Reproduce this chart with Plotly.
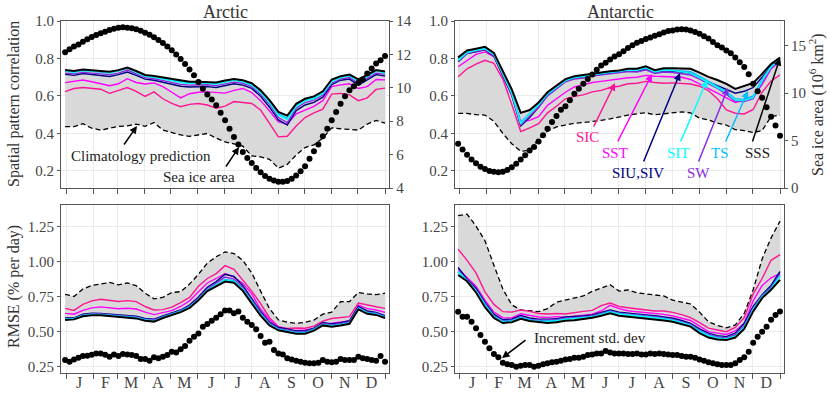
import plotly.graph_objects as go

SERIF = "Liberation Serif"
W, H = 830, 394

# x positions: 73 five-day means over the year, lines drawn at every other one
pentad_day = [i * 366 / 72 for i in range(73)]
line_day = pentad_day[::2]

month_edges = [1, 32, 60, 91, 121, 152, 182, 213, 244, 274, 305, 335, 366]
month_mid = [16, 46, 75.5, 106, 136.5, 167, 197.5, 228.5, 259, 289.5, 320, 350.5]
month_labels = ["J", "F", "M", "A", "M", "J", "J", "A", "S", "O", "N", "D"]

run_names = ["SIC", "SST", "SIU,SIV", "SW", "TS", "SIT", "SSS"]
run_colors = {"SIC": "#ff1493", "SST": "#ff00ff", "SIU,SIV": "#000080", "SW": "#8a2be2",
              "TS": "#00bfff", "SIT": "#00ffff", "SSS": "#000000"}

# ---------------- Arctic, spatial pattern correlation ----------------
arc_corr_clim = [0.436, 0.436, 0.452, 0.428, 0.418, 0.430, 0.438, 0.440, 0.450, 0.438, 0.458, 0.418, 0.405,
                 0.392, 0.385, 0.392, 0.400, 0.375, 0.355, 0.344, 0.332, 0.280, 0.275, 0.262, 0.215, 0.235,
                 0.285, 0.325, 0.339, 0.375, 0.430, 0.425, 0.420, 0.418, 0.450, 0.470, 0.455]
arc_corr_sic = [0.623, 0.640, 0.645, 0.640, 0.636, 0.614, 0.630, 0.645, 0.625, 0.598, 0.622, 0.585, 0.560,
                0.543, 0.555, 0.560, 0.552, 0.535, 0.546, 0.570, 0.565, 0.560, 0.525, 0.450, 0.382, 0.385,
                0.440, 0.485, 0.510, 0.530, 0.610, 0.614, 0.606, 0.575, 0.590, 0.635, 0.642]
arc_corr_sst = [0.671, 0.678, 0.685, 0.676, 0.667, 0.655, 0.665, 0.692, 0.672, 0.664, 0.670, 0.650, 0.620,
                0.590, 0.612, 0.620, 0.622, 0.618, 0.615, 0.630, 0.640, 0.618, 0.575, 0.520, 0.462, 0.450,
                0.505, 0.525, 0.545, 0.575, 0.650, 0.659, 0.665, 0.640, 0.650, 0.688, 0.686]
arc_corr_siuv = [0.716, 0.710, 0.720, 0.714, 0.712, 0.704, 0.714, 0.728, 0.710, 0.690, 0.684, 0.674, 0.662,
                 0.652, 0.648, 0.650, 0.650, 0.645, 0.655, 0.665, 0.658, 0.640, 0.598, 0.540, 0.472, 0.445,
                 0.522, 0.552, 0.566, 0.594, 0.660, 0.684, 0.690, 0.658, 0.686, 0.714, 0.706]
arc_corr_sw = [0.722, 0.718, 0.726, 0.722, 0.720, 0.714, 0.722, 0.738, 0.718, 0.698, 0.692, 0.682, 0.672,
               0.662, 0.658, 0.660, 0.660, 0.655, 0.665, 0.674, 0.668, 0.650, 0.610, 0.555, 0.485, 0.458,
               0.535, 0.565, 0.578, 0.605, 0.668, 0.690, 0.698, 0.668, 0.694, 0.722, 0.715]
arc_corr_ts = [0.732, 0.728, 0.736, 0.733, 0.730, 0.724, 0.734, 0.748, 0.728, 0.707, 0.700, 0.692, 0.684,
               0.673, 0.669, 0.670, 0.670, 0.666, 0.676, 0.684, 0.678, 0.661, 0.622, 0.570, 0.505, 0.482,
               0.550, 0.578, 0.590, 0.618, 0.680, 0.700, 0.708, 0.680, 0.706, 0.733, 0.725]
arc_corr_sit = [0.735, 0.727, 0.738, 0.731, 0.733, 0.722, 0.736, 0.750, 0.726, 0.705, 0.701, 0.690, 0.682,
                0.671, 0.666, 0.672, 0.668, 0.663, 0.674, 0.686, 0.676, 0.658, 0.618, 0.565, 0.498, 0.475,
                0.545, 0.574, 0.586, 0.614, 0.676, 0.698, 0.710, 0.676, 0.703, 0.735, 0.722]
arc_corr_sss = [0.738, 0.733, 0.741, 0.737, 0.735, 0.729, 0.738, 0.752, 0.733, 0.712, 0.706, 0.698, 0.690,
                0.680, 0.676, 0.676, 0.676, 0.672, 0.682, 0.690, 0.684, 0.668, 0.630, 0.578, 0.515, 0.495,
                0.558, 0.585, 0.598, 0.625, 0.688, 0.705, 0.714, 0.688, 0.712, 0.738, 0.730]
arc_area = [12.13, 12.31, 12.47, 12.6, 12.76, 12.9, 13.04, 13.16, 13.26, 13.36, 13.46, 13.54, 13.6, 13.62,
            13.6, 13.56, 13.5, 13.42, 13.3, 13.17, 13.02, 12.86, 12.68, 12.48, 12.25, 12.0, 11.72, 11.43,
            11.1, 10.75, 10.35, 9.95, 9.6, 9.3, 8.95, 8.5, 8.05, 7.55, 7.05, 6.6, 6.15, 5.8, 5.5, 5.2, 4.95,
            4.72, 4.55, 4.45, 4.38, 4.37, 4.42, 4.55, 4.75, 5.0, 5.3, 5.75, 6.2, 6.6, 7.1, 7.55, 8.05, 8.55,
            9.05, 9.5, 9.85, 10.1, 10.3, 10.5, 10.85, 11.15, 11.45, 11.65, 11.9]

# ---------------- Antarctic, spatial pattern correlation ----------------
ant_corr_clim = [0.507, 0.507, 0.500, 0.498, 0.465, 0.400, 0.345, 0.305, 0.310, 0.370, 0.412, 0.435, 0.445,
                 0.454, 0.458, 0.462, 0.470, 0.478, 0.490, 0.498, 0.505, 0.510, 0.500, 0.505, 0.507, 0.515,
                 0.510, 0.482, 0.472, 0.455, 0.445, 0.420, 0.415, 0.405, 0.415, 0.490, 0.498]
ant_corr_sic = [0.703, 0.745, 0.770, 0.790, 0.774, 0.690, 0.555, 0.410, 0.430, 0.452, 0.510, 0.545, 0.585,
                0.598, 0.606, 0.622, 0.630, 0.645, 0.652, 0.665, 0.668, 0.678, 0.672, 0.668, 0.670, 0.665,
                0.664, 0.652, 0.628, 0.585, 0.525, 0.508, 0.504, 0.528, 0.620, 0.680, 0.712]
ant_corr_sst = [0.756, 0.790, 0.822, 0.835, 0.810, 0.710, 0.610, 0.465, 0.470, 0.490, 0.550, 0.585, 0.620,
                0.648, 0.662, 0.672, 0.678, 0.685, 0.690, 0.697, 0.700, 0.710, 0.705, 0.703, 0.702, 0.700,
                0.688, 0.665, 0.640, 0.615, 0.590, 0.565, 0.580, 0.598, 0.660, 0.745, 0.783]
ant_corr_siuv = [0.782, 0.826, 0.836, 0.846, 0.812, 0.710, 0.603, 0.440, 0.485, 0.540, 0.605, 0.642, 0.680,
                 0.695, 0.700, 0.710, 0.716, 0.720, 0.724, 0.733, 0.732, 0.745, 0.725, 0.734, 0.732, 0.728,
                 0.722, 0.700, 0.675, 0.655, 0.635, 0.615, 0.625, 0.645, 0.700, 0.758, 0.793]
ant_corr_sw = [0.785, 0.828, 0.838, 0.848, 0.815, 0.715, 0.608, 0.445, 0.490, 0.540, 0.600, 0.638, 0.675,
               0.690, 0.696, 0.706, 0.712, 0.716, 0.720, 0.730, 0.728, 0.740, 0.720, 0.728, 0.725, 0.720,
               0.712, 0.690, 0.665, 0.640, 0.610, 0.572, 0.570, 0.585, 0.672, 0.748, 0.790]
ant_corr_ts = [0.795, 0.835, 0.845, 0.855, 0.822, 0.725, 0.620, 0.460, 0.510, 0.555, 0.612, 0.648, 0.685,
               0.700, 0.706, 0.716, 0.722, 0.726, 0.730, 0.740, 0.740, 0.752, 0.730, 0.740, 0.738, 0.735,
               0.730, 0.705, 0.678, 0.655, 0.625, 0.585, 0.582, 0.600, 0.690, 0.760, 0.800]
ant_corr_sit = [0.790, 0.832, 0.843, 0.852, 0.820, 0.722, 0.615, 0.452, 0.508, 0.552, 0.610, 0.645, 0.682,
                0.698, 0.704, 0.714, 0.720, 0.724, 0.728, 0.738, 0.737, 0.750, 0.728, 0.738, 0.735, 0.730,
                0.722, 0.698, 0.672, 0.648, 0.618, 0.578, 0.575, 0.592, 0.680, 0.755, 0.795]
ant_corr_sss = [0.806, 0.843, 0.852, 0.862, 0.830, 0.735, 0.635, 0.510, 0.525, 0.565, 0.620, 0.655, 0.690,
                0.705, 0.712, 0.722, 0.728, 0.732, 0.736, 0.745, 0.745, 0.758, 0.738, 0.748, 0.748, 0.748,
                0.745, 0.725, 0.702, 0.685, 0.665, 0.638, 0.652, 0.670, 0.718, 0.770, 0.805]
ant_area = [4.67, 4.05, 3.5, 3.0, 2.6, 2.25, 2.0, 1.8, 1.7, 1.67, 1.72, 1.9, 2.2, 2.55, 3.0, 3.45, 3.95,
            4.32, 4.9, 5.55, 6.25, 6.95, 7.6, 8.25, 8.62, 9.25, 9.93, 10.45, 11.0, 11.5, 11.95, 12.45, 12.9,
            13.2, 13.55, 13.85, 14.1, 14.4, 14.75, 15.05, 15.3, 15.5, 15.7, 15.85, 16.05, 16.2, 16.4, 16.55,
            16.6, 16.7, 16.72, 16.7, 16.6, 16.45, 16.25, 16.0, 15.75, 15.4, 15.05, 14.8, 14.5, 14.2, 13.75,
            13.25, 12.75, 12.0, 11.0, 10.2, 9.5, 8.5, 7.5, 6.6, 5.5]

# ---------------- Arctic, RMSE ----------------
arc_rmse_clim = [0.767, 0.752, 0.805, 0.830, 0.840, 0.852, 0.835, 0.848, 0.829, 0.775, 0.735, 0.745, 0.780,
                 0.786, 0.840, 0.910, 0.990, 1.035, 1.070, 1.058, 1.010, 0.920, 0.790, 0.665, 0.585, 0.568,
                 0.560, 0.566, 0.583, 0.625, 0.640, 0.714, 0.715, 0.780, 0.770, 0.765, 0.775]
arc_rmse_sic = [0.667, 0.652, 0.695, 0.720, 0.732, 0.726, 0.716, 0.722, 0.715, 0.680, 0.655, 0.658, 0.676,
                0.708, 0.745, 0.825, 0.880, 0.915, 0.972, 0.945, 0.870, 0.790, 0.700, 0.600, 0.535, 0.524,
                0.526, 0.525, 0.540, 0.575, 0.594, 0.600, 0.608, 0.705, 0.690, 0.678, 0.667]
arc_rmse_sst = [0.631, 0.625, 0.652, 0.670, 0.677, 0.672, 0.664, 0.668, 0.662, 0.640, 0.622, 0.636, 0.650,
                0.680, 0.720, 0.786, 0.848, 0.880, 0.915, 0.890, 0.845, 0.770, 0.660, 0.585, 0.535, 0.506,
                0.508, 0.512, 0.522, 0.548, 0.560, 0.570, 0.576, 0.690, 0.665, 0.655, 0.638]
arc_rmse_siuv = [0.600, 0.598, 0.625, 0.632, 0.630, 0.626, 0.622, 0.617, 0.610, 0.595, 0.590, 0.612, 0.636,
                 0.655, 0.690, 0.748, 0.818, 0.858, 0.910, 0.895, 0.828, 0.738, 0.645, 0.568, 0.530, 0.520,
                 0.505, 0.505, 0.525, 0.565, 0.556, 0.565, 0.578, 0.680, 0.648, 0.638, 0.615]
arc_rmse_sw = [0.595, 0.593, 0.620, 0.628, 0.626, 0.620, 0.618, 0.612, 0.606, 0.590, 0.585, 0.607, 0.630,
               0.650, 0.682, 0.738, 0.806, 0.845, 0.890, 0.876, 0.814, 0.726, 0.636, 0.560, 0.522, 0.512,
               0.498, 0.498, 0.520, 0.558, 0.548, 0.558, 0.570, 0.672, 0.640, 0.632, 0.610]
arc_rmse_ts = [0.591, 0.595, 0.617, 0.625, 0.623, 0.617, 0.613, 0.607, 0.601, 0.586, 0.579, 0.604, 0.627,
               0.647, 0.678, 0.732, 0.800, 0.836, 0.873, 0.864, 0.806, 0.718, 0.628, 0.555, 0.518, 0.506,
               0.494, 0.494, 0.516, 0.552, 0.544, 0.552, 0.564, 0.670, 0.636, 0.628, 0.606]
arc_rmse_sit = [0.588, 0.592, 0.614, 0.622, 0.620, 0.615, 0.610, 0.604, 0.598, 0.583, 0.576, 0.602, 0.624,
                0.644, 0.675, 0.728, 0.796, 0.832, 0.868, 0.858, 0.800, 0.712, 0.624, 0.552, 0.515, 0.502,
                0.490, 0.490, 0.513, 0.549, 0.540, 0.548, 0.560, 0.666, 0.632, 0.624, 0.602]
arc_rmse_sss = [0.583, 0.588, 0.610, 0.618, 0.617, 0.612, 0.606, 0.600, 0.595, 0.578, 0.572, 0.598, 0.620,
                0.640, 0.670, 0.725, 0.790, 0.822, 0.858, 0.850, 0.792, 0.702, 0.615, 0.545, 0.510, 0.498,
                0.486, 0.486, 0.508, 0.545, 0.536, 0.545, 0.556, 0.660, 0.628, 0.620, 0.598]
arc_std = [0.298, 0.286, 0.302, 0.314, 0.326, 0.329, 0.336, 0.345, 0.345, 0.336, 0.321, 0.338, 0.326, 0.340,
           0.338, 0.333, 0.326, 0.305, 0.305, 0.293, 0.317, 0.310, 0.321, 0.333, 0.357, 0.352, 0.374, 0.398,
           0.436, 0.464, 0.488, 0.536, 0.555, 0.579, 0.600, 0.625, 0.652, 0.652, 0.632, 0.645, 0.600, 0.571,
           0.548, 0.517, 0.469, 0.421, 0.429, 0.369, 0.345, 0.338, 0.310, 0.302, 0.293, 0.286, 0.279, 0.274,
           0.274, 0.279, 0.298, 0.286, 0.281, 0.286, 0.305, 0.298, 0.298, 0.298, 0.321, 0.310, 0.305, 0.298,
           0.293, 0.326, 0.286]

# ---------------- Antarctic, RMSE ----------------
ant_rmse_clim = [1.329, 1.340, 1.255, 1.150, 0.975, 0.805, 0.692, 0.655, 0.650, 0.643, 0.665, 0.710, 0.726,
                 0.740, 0.755, 0.788, 0.810, 0.835, 0.790, 0.798, 0.778, 0.772, 0.762, 0.755, 0.725, 0.714,
                 0.698, 0.640, 0.571, 0.545, 0.528, 0.548, 0.630, 0.800, 1.020, 1.170, 1.290]
ant_rmse_sic = [1.090, 1.010, 0.920, 0.785, 0.695, 0.643, 0.640, 0.655, 0.645, 0.630, 0.626, 0.630, 0.626,
                0.638, 0.645, 0.652, 0.686, 0.705, 0.680, 0.671, 0.664, 0.655, 0.648, 0.648, 0.638, 0.622,
                0.600, 0.565, 0.525, 0.512, 0.500, 0.530, 0.600, 0.770, 0.880, 1.010, 1.050]
ant_rmse_sst = [0.950, 0.885, 0.825, 0.725, 0.640, 0.600, 0.598, 0.628, 0.615, 0.605, 0.602, 0.608, 0.604,
                0.612, 0.618, 0.625, 0.648, 0.688, 0.665, 0.650, 0.642, 0.636, 0.630, 0.624, 0.612, 0.598,
                0.580, 0.540, 0.500, 0.490, 0.480, 0.505, 0.560, 0.720, 0.830, 0.885, 0.915]
ant_rmse_siuv = [0.960, 0.875, 0.810, 0.710, 0.625, 0.585, 0.590, 0.615, 0.598, 0.590, 0.590, 0.592, 0.605,
                 0.607, 0.612, 0.620, 0.638, 0.655, 0.640, 0.635, 0.625, 0.620, 0.614, 0.605, 0.596, 0.580,
                 0.560, 0.520, 0.490, 0.472, 0.465, 0.490, 0.560, 0.680, 0.765, 0.830, 0.930]
ant_rmse_sw = [0.935, 0.870, 0.800, 0.700, 0.615, 0.578, 0.582, 0.606, 0.590, 0.582, 0.582, 0.585, 0.597,
               0.600, 0.605, 0.612, 0.630, 0.648, 0.632, 0.627, 0.618, 0.612, 0.607, 0.598, 0.588, 0.572,
               0.552, 0.512, 0.482, 0.464, 0.456, 0.478, 0.545, 0.668, 0.758, 0.818, 0.910]
ant_rmse_ts = [0.925, 0.868, 0.795, 0.695, 0.610, 0.574, 0.578, 0.602, 0.586, 0.577, 0.576, 0.580, 0.592,
               0.596, 0.600, 0.608, 0.626, 0.644, 0.628, 0.622, 0.615, 0.609, 0.603, 0.594, 0.584, 0.568,
               0.547, 0.505, 0.475, 0.457, 0.450, 0.470, 0.535, 0.662, 0.752, 0.810, 0.900]
ant_rmse_sit = [0.930, 0.865, 0.790, 0.690, 0.605, 0.570, 0.574, 0.598, 0.582, 0.573, 0.572, 0.576, 0.588,
                0.592, 0.597, 0.605, 0.622, 0.640, 0.625, 0.620, 0.612, 0.606, 0.600, 0.590, 0.580, 0.564,
                0.543, 0.500, 0.470, 0.452, 0.446, 0.466, 0.530, 0.656, 0.748, 0.805, 0.895]
ant_rmse_sss = [0.905, 0.860, 0.780, 0.675, 0.598, 0.562, 0.568, 0.592, 0.576, 0.567, 0.562, 0.568, 0.578,
                0.582, 0.590, 0.600, 0.614, 0.631, 0.614, 0.608, 0.602, 0.596, 0.590, 0.580, 0.571, 0.556,
                0.536, 0.490, 0.458, 0.445, 0.440, 0.458, 0.520, 0.645, 0.740, 0.800, 0.870]
ant_std = [0.643, 0.607, 0.607, 0.571, 0.524, 0.476, 0.429, 0.381, 0.340, 0.317, 0.279, 0.267, 0.262, 0.250,
           0.257, 0.262, 0.262, 0.250, 0.257, 0.267, 0.274, 0.281, 0.286, 0.293, 0.302, 0.305, 0.314, 0.314,
           0.321, 0.333, 0.338, 0.345, 0.345, 0.362, 0.352, 0.345, 0.345, 0.345, 0.340, 0.340, 0.345, 0.338,
           0.338, 0.345, 0.340, 0.345, 0.340, 0.338, 0.333, 0.333, 0.326, 0.321, 0.321, 0.314, 0.302, 0.293,
           0.281, 0.274, 0.267, 0.262, 0.262, 0.262, 0.274, 0.298, 0.317, 0.357, 0.421, 0.464, 0.500, 0.536,
           0.585, 0.620, 0.645]

panels = [
    ("x", "y", arc_corr_clim, [arc_corr_sic, arc_corr_sst, arc_corr_siuv, arc_corr_sw, arc_corr_ts, arc_corr_sit, arc_corr_sss]),
    ("x2", "y2", ant_corr_clim, [ant_corr_sic, ant_corr_sst, ant_corr_siuv, ant_corr_sw, ant_corr_ts, ant_corr_sit, ant_corr_sss]),
    ("x3", "y3", arc_rmse_clim, [arc_rmse_sic, arc_rmse_sst, arc_rmse_siuv, arc_rmse_sw, arc_rmse_ts, arc_rmse_sit, arc_rmse_sss]),
    ("x4", "y4", ant_rmse_clim, [ant_rmse_sic, ant_rmse_sst, ant_rmse_siuv, ant_rmse_sw, ant_rmse_ts, ant_rmse_sit, ant_rmse_sss]),
]

fig = go.Figure()

for xa, ya, clim, runs in panels:
    # grey band between climatology and the SSS run
    fig.add_trace(go.Scatter(x=line_day, y=clim, mode="lines", line=dict(width=0),
                             xaxis=xa, yaxis=ya, hoverinfo="skip"))
    fig.add_trace(go.Scatter(x=line_day, y=runs[-1], mode="lines", line=dict(width=0),
                             fill="tonexty", fillcolor="#d9d9d9", xaxis=xa, yaxis=ya, hoverinfo="skip"))
    fig.add_trace(go.Scatter(x=line_day, y=clim, mode="lines",
                             line=dict(color="black", width=1.3, dash="5px,3px"), xaxis=xa, yaxis=ya))
    for name, vals in zip(run_names, runs):
        fig.add_trace(go.Scatter(x=line_day, y=vals, mode="lines", name=name,
                                 line=dict(color=run_colors[name], width=2.0 if name == "SSS" else 1.4),
                                 xaxis=xa, yaxis=ya))

dot = dict(color="black", size=6)
fig.add_trace(go.Scatter(x=pentad_day, y=arc_area, mode="markers", marker=dot, xaxis="x", yaxis="y5"))
fig.add_trace(go.Scatter(x=pentad_day, y=ant_area, mode="markers", marker=dot, xaxis="x2", yaxis="y6"))
fig.add_trace(go.Scatter(x=pentad_day, y=arc_std, mode="markers", marker=dot, xaxis="x3", yaxis="y3"))
fig.add_trace(go.Scatter(x=pentad_day, y=ant_std, mode="markers", marker=dot, xaxis="x4", yaxis="y4"))

LINE = "#555555"
GRID = "#ebebeb"
tickfont = dict(family=SERIF, size=15, color="#444")

def px_x(p):
    return p / W

def px_y(p):
    return 1 - p / H

left_dom = [px_x(61), px_x(389.3)]
right_dom = [px_x(455), px_x(784)]
top_dom = [px_y(188), px_y(21)]
bot_dom = [px_y(373), px_y(205)]

def xaxis(dom, rng, anchor, labels):
    return dict(domain=dom, range=rng, anchor=anchor, tickmode="array", tickvals=month_mid,
                ticktext=month_labels, ticks="", ticklen=0, showticklabels=labels, showgrid=False,
                ticklabelstandoff=-5,
                showline=True, mirror=True, linecolor=LINE, linewidth=1, zeroline=False,
                tickfont=dict(family=SERIF, size=16, color="#444"),
                minor=dict(tickmode="array", tickvals=month_edges, ticks="outside", ticklen=5,
                           tickcolor=LINE, showgrid=True, gridcolor=GRID, gridwidth=1))

def yaxis(dom, rng, anchor, vals, fmt):
    return dict(domain=dom, range=rng, anchor=anchor, tickmode="array", tickvals=vals,
                tickformat=fmt, ticks="outside", ticklen=3, tickcolor=LINE, showline=True,
                mirror=True, linecolor=LINE, linewidth=1, showgrid=True, gridcolor=GRID,
                zeroline=False, tickfont=tickfont)

def yright(over, anchor, rng, vals):
    return dict(overlaying=over, anchor=anchor, side="right", range=rng, tickmode="array",
                tickvals=vals, ticks="outside", ticklen=3, tickcolor=LINE, showline=True,
                linecolor=LINE, showgrid=False, zeroline=False, tickfont=tickfont)

corr_ticks = [0.2, 0.4, 0.6, 0.8, 1.0]
rmse_ticks = [0.25, 0.5, 0.75, 1.0, 1.25]

fig.update_layout(
    width=W, height=H, margin=dict(l=0, r=0, t=0, b=0, autoexpand=False),
    paper_bgcolor="white", plot_bgcolor="white", showlegend=False,
    xaxis=xaxis(left_dom, [-4.72, 370.9], "y", False),
    xaxis2=xaxis(right_dom, [-3.55, 370.55], "y2", False),
    xaxis3=xaxis(left_dom, [-4.72, 370.9], "y3", True),
    xaxis4=xaxis(right_dom, [-3.55, 370.55], "y4", True),
    yaxis=yaxis(top_dom, [0.109, 1.0], "x", corr_ticks, ".1f"),
    yaxis2=yaxis(top_dom, [0.109, 1.0], "x2", corr_ticks, ".1f"),
    yaxis3=yaxis(bot_dom, [0.205, 1.405], "x3", rmse_ticks, ".2f"),
    yaxis4=yaxis(bot_dom, [0.205, 1.405], "x4", rmse_ticks, ".2f"),
    yaxis5=yright("y", "x", [4, 14], [4, 6, 8, 10, 12, 14]),
    yaxis6=yright("y2", "x2", [0, 17.6], [0, 5, 10, 15]),
)

ann = []

def text(px, py, s, size=15, color="#222", angle=0):
    ann.append(dict(x=px_x(px), y=px_y(py), xref="paper", yref="paper", text=s, showarrow=False,
                    xanchor="center", yanchor="middle", textangle=angle,
                    font=dict(family=SERIF, size=size, color=color)))

def arrow(tx, ty, hx, hy, color="black"):
    ann.append(dict(x=px_x(hx), y=px_y(hy), xref="paper", yref="paper", ax=tx - hx, ay=ty - hy,
                    text="", showarrow=True, arrowhead=2, arrowsize=1, arrowwidth=1.5,
                    arrowcolor=color))

text(225, 12, "Arctic", 18, "#333")
text(620, 12, "Antarctic", 18, "#333")
text(14, 104, "Spatial pattern correlation", 16, "#333", -90)
text(14, 287, "RMSE (% per day)", 16, "#333", -90)
text(817, 105, "Sea ice area (10<sup>6</sup> km<sup>2</sup>)", 16, "#333", -90)

text(141, 156, "Climatology prediction")
arrow(123, 146, 137, 126)
text(199, 177, "Sea ice area")
arrow(225, 168, 239, 147)

labels = [("SIC", 587, 137, 593, 128, 615, 83),
          ("SST", 615, 153, 617, 143, 652, 74),
          ("SIU,SIV", 638, 173, 643, 163, 680, 73),
          ("SIT", 678, 153, 680, 143, 707, 80),
          ("SW", 698, 173, 698, 163, 728, 88),
          ("TS", 720, 153, 725, 143, 748, 91),
          ("SSS", 757, 153, 752, 143, 780, 58)]
for name, lx, ly, tx, ty, hx, hy in labels:
    c = "#222" if name == "SSS" else run_colors[name]
    text(lx, ly, name, 15, c)
    arrow(tx, ty, hx, hy, run_colors[name])

text(590, 338, "Increment std. dev")
arrow(527, 339, 502, 358)

fig.update_layout(annotations=ann)

# the page's default 8px body margin would push the 830x394 figure off the window
fig.write_html("out.html", config={"displayModeBar": False},
               post_script="document.body.style.margin = '0';")
